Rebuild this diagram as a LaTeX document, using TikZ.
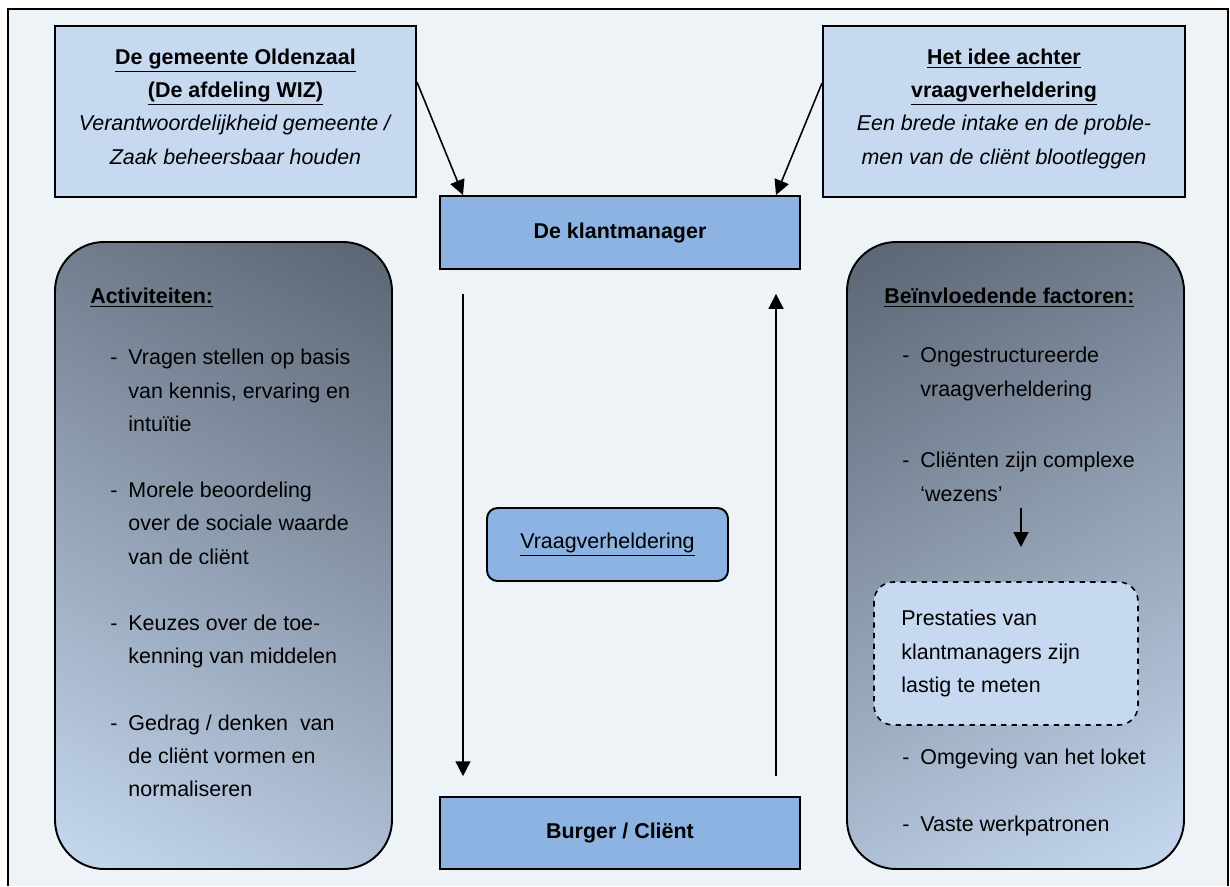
\documentclass[tikz,border=0pt]{standalone}
\usepackage{fontspec}
\setmainfont{Liberation Sans}
\usepackage{xcolor}
\usetikzlibrary{arrows.meta}

\definecolor{achter}{HTML}{EEF3F8}
\definecolor{lichtblauw}{HTML}{C6D9F1}
\definecolor{middenblauw}{HTML}{8DB3E2}
\definecolor{leisteen}{HTML}{5A6472}

\tikzset{
  kader/.style={draw, line width=1.1pt, inner sep=0pt},
  pijl/.style={line width=0.9pt, -{Triangle[length=8.5pt,width=8.5pt]}},
  lijst/.style={anchor=north west, inner sep=0pt, align=left},
}

\newcommand{\streep}{\makebox[10.3pt][l]{-}}
\newcommand{\inspring}{\hspace*{10.3pt}}

\begin{document}
\begin{tikzpicture}[x=0.02cm,y=-0.02cm,font=\fontsize{12.2}{18.9}\selectfont]
\useasboundingbox (0,0) rectangle (1230,886);
\fill [achter] (8,9) rectangle (1228,886);
\draw [line width=0.9pt] (8,886) -- (8,9) -- (1228,9) -- (1228,886);

% bovenste kaders
\node [kader, fill=lichtblauw, minimum width=361*0.02cm, minimum height=171*0.02cm, align=center]
  (gemeente) at (235.5,111.5) {\textbf{\underline{De gemeente Oldenzaal}}\\ \textbf{\underline{(De afdeling WIZ)}}\\
  \textit{Verantwoordelijkheid gemeente /}\\ \textit{Zaak beheersbaar houden}\\[-13.2pt]};
\node [kader, fill=lichtblauw, minimum width=362*0.02cm, minimum height=171*0.02cm, align=center]
  (idee) at (1004,111.5) {\textbf{\underline{Het idee achter}}\\ \textbf{\underline{vraagverheldering}}\\
  \textit{Een brede intake en de proble-}\\ \textit{men van de cliënt blootleggen}\\[-13.2pt]};

% midden
\node [kader, fill=middenblauw, minimum width=360*0.02cm, minimum height=73*0.02cm]
  (klant) at (620,232.5) {\textbf{De klantmanager}};
\node [kader, fill=middenblauw, minimum width=360*0.02cm, minimum height=72*0.02cm]
  (burger) at (620,833) {\textbf{Burger / Cliënt}};
\node [kader, fill=middenblauw, rounded corners=6pt, minimum width=241*0.02cm, minimum height=73*0.02cm]
  (vraag) at (607.5,544.5) {\underline{Vraagverheldering}};

\coordinate (lx) at (463,0);
\coordinate (rx) at (776,0);
\draw [pijl] (gemeente.east |- 0,82) -- (klant.north -| lx);
\draw [pijl] (idee.west |- 0,83) -- (klant.north -| rx);
\draw [pijl, shorten <=13.6pt, shorten >=11.3pt] (klant.south -| lx) -- (burger.north -| lx);
\draw [pijl, shorten <=11.3pt, shorten >=13.6pt] (burger.north -| rx) -- (klant.south -| rx);

% linker kader
\begin{scope}
  \clip [rounded corners=28pt] (55,242) rectangle (392,869);
  \shade [top color=leisteen, bottom color=lichtblauw, shading angle=-28]
    (-132.5,199.5) rectangle (579.5,911.5);
\end{scope}
\draw [line width=1.1pt, rounded corners=28pt] (55,242) rectangle (392,869);
\node [lijst] (activiteiten) at (90,288) {\textbf{\underline{Activiteiten:}}};
\node [lijst] (acties) at (110,349) {\streep Vragen stellen op basis\\ \inspring van kennis, ervaring en\\ \inspring intuïtie\\[18.9pt]
  \streep Morele beoordeling\\ \inspring over de sociale waarde\\ \inspring van de cliënt\\[18.9pt]
  \streep Keuzes over de toe-\\ \inspring kenning van middelen\\[18.9pt]
  \streep Gedrag / denken\ \ van\\ \inspring de cliënt vormen en\\ \inspring normaliseren};

% rechter kader
\begin{scope}
  \clip [rounded corners=28pt] (847,242) rectangle (1184,869);
  \shade [top color=leisteen, bottom color=lichtblauw, shading angle=28]
    (659.5,199.5) rectangle (1371.5,911.5);
\end{scope}
\draw [line width=1.1pt, rounded corners=28pt] (847,242) rectangle (1184,869);
\node [lijst] (factoren) at (884,288) {\textbf{\underline{Beïnvloedende factoren:}}};
\node [lijst] (ongestructureerd) at (902,347) {\streep Ongestructureerde\\ \inspring vraagverheldering};
\node [lijst] (complex) at (902,452) {\streep Cliënten zijn complexe\\ \inspring ‘wezens’};
\draw [dashed, line width=0.9pt, fill=lichtblauw, rounded corners=11pt] (874,582) rectangle (1138,725);
\node [lijst] (prestaties) at (901,610) {Prestaties van\\ klantmanagers zijn\\ lastig te meten};
\node [lijst] (omgeving) at (902,749) {\streep Omgeving van het loket};
\node [lijst] (werkpatronen) at (902,816) {\streep Vaste werkpatronen};
\draw [pijl] (1021,508) -- (1021,547);
\end{tikzpicture}
\end{document}
